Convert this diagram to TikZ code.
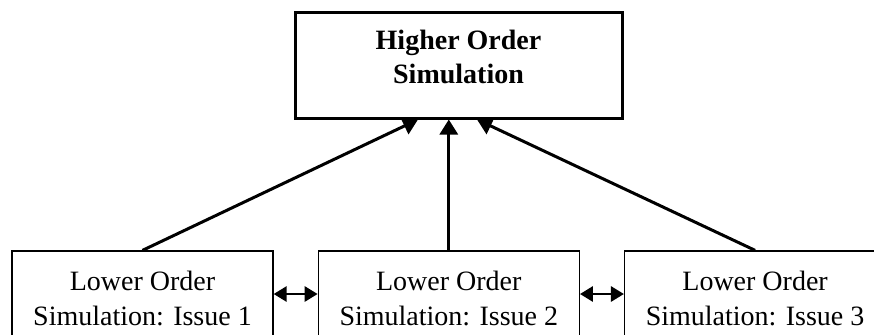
\documentclass[tikz,border=0pt]{standalone}
\usepackage{fontspec}
\setmainfont{Liberation Serif}
\usetikzlibrary{positioning,arrows.meta}

\tikzset{
    highbox/.style={draw, line width=1.5pt, minimum width=163.5pt, minimum height=53pt},
    lowbox/.style={draw, line width=0.65pt, minimum width=130.5pt, minimum height=47pt,
        align=center, font=\fontsize{14}{17.5}\selectfont},
    uparrow/.style={line width=1.5pt, -{Triangle[length=7.5pt, width=9pt]}},
    linkarrow/.style={line width=1.4pt, {Triangle[length=6.5pt, width=7.5pt]}-{Triangle[length=6.5pt, width=7.5pt]}}
}

\begin{document}
\begin{tikzpicture}[x=0.5pt, y=-0.5pt]
    % Fix the frame
    \useasboundingbox (0,0) rectangle (874,334);
    \clip (0,0) rectangle (874,334);

    % Top box
    \node[highbox] (high) at (458.5, 65) {};
    \node[align=center, font=\fontsize{14}{17}\bfseries] (hightxt) at (458.5, 57) {Higher Order\\Simulation};

    % Bottom row of boxes
    \node[lowbox] (low1) at (142.5, 298) {Lower Order\\Simulation: Issue 1};
    \node[lowbox, right=22pt of low1] (low2) {Lower Order\\Simulation: Issue 2};
    \node[lowbox, right=22pt of low2] (low3) {Lower Order\\Simulation: Issue 3};

    % Arrows up to the top box
    \draw[uparrow] (low1.north) -- ([xshift=-20.25pt]high.south);
    \draw[uparrow] (low2.north) -- (low2.north |- high.south);
    \draw[uparrow] (low3.north) -- ([xshift=9.25pt]high.south);

    % Links between the bottom boxes
    \draw[linkarrow] ([yshift=2pt]low1.east) -- ([yshift=2pt]low2.west);
    \draw[linkarrow] ([yshift=2pt]low2.east) -- ([yshift=2pt]low3.west);
\end{tikzpicture}
\end{document}
